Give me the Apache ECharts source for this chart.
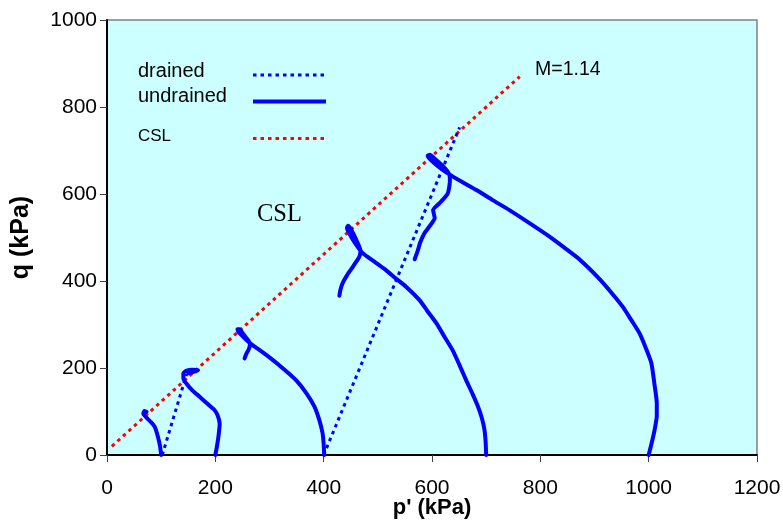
<!DOCTYPE html>
<html>
<head>
<meta charset="utf-8">
<script src="https://cdn.jsdelivr.net/npm/echarts@6/dist/echarts.min.js"></script>
<style>
  html, body { margin: 0; padding: 0; background: #ffffff; }
  #chart { width: 783px; height: 521px; }
</style>
</head>
<body>
<div id="chart"></div>
<script>
// Stress paths in p'-q space (kPa)
const undrained100 = [[100,0],[98,20],[94,42],[88,65],[80,77],[72,87],[67,95],[69,101],[73,99]];
const undrained200 = [[200,0],[203,20],[206,45],[208,72],[204,92],[198,104],[186,117],[171,134],[158,148],[148,162],[141,176],[141,188],[147,194],[158,196],[168,195],[160,191],[150,188]];
const undrained400 = [[401,0],[400,25],[398,50],[392,80],[383,111],[368,142],[349,172],[325,199],[294,230],[275,247],[266,255],[256,266],[248,276],[242,284],[241,289],[245,289],[250,281],[258,268],[264,256],[262,244],[257,232],[254,222]];
const undrained700 = [[700,0],[699,30],[697,57],[692,85],[685,111],[675,140],[663,172],[651,206],[638,241],[623,272],[608,303],[592,330],[577,356],[552,387],[533,406],[515,425],[493,445],[472,464],[458,487],[448,508],[443,522],[445,527],[451,518],[460,495],[468,470],[466,456],[455,435],[443,413],[435,395],[431,380],[429,366]];
const undrained1000 = [[1000,0],[1006,30],[1011,58],[1015,90],[1015,119],[1011,160],[1005,211],[995,245],[983,280],[968,310],[952,341],[932,372],[909,405],[872,450],[845,476],[817,502],[780,533],[743,563],[712,586],[682,609],[655,628],[632,645],[612,663],[598,678],[592,688],[596,690],[606,680],[622,662],[632,645],[633,630],[629,601],[614,579],[602,563],[605,545],[595,525],[586,510],[578,488],[574,471],[568,450]];
const drained100 = [[102,0],[147,186]];
const drained400 = [[400,0],[651,753]];
const cslLine = [[9,20],[762,870]];

const pRange = [0, 1200, 200];
const qRange = [0, 1000, 200];

const legendNames = ['drained', 'undrained', 'CSL'];
const slopeLabel = 'M=1.14';
const cslLabel = 'CSL';
const xTitle = "p' (kPa)";
const yTitle = 'q (kPa)';

const BLUE = '#0000FF';
const RED = '#FF0000';
const FONT = '"Liberation Sans", Arial, sans-serif';

const solid = { color: BLUE, width: 4, type: 'solid', cap: 'round', join: 'round' };
const dottedBlue = { color: BLUE, width: 3, type: [3.5, 4], cap: 'butt' };
const dottedRed = { color: RED, width: 3, type: [3.5, 4], cap: 'butt' };

function pathSeries(name, data, style, z, smooth) {
  return {
    name: name, type: 'line', data: data, symbol: 'none', smooth: smooth || false,
    lineStyle: style, z: z, silent: true, clip: false
  };
}

const series = [
  pathSeries('CSL', cslLine, dottedRed, 2),
  pathSeries('drained', drained100, dottedBlue, 3),
  pathSeries('drained', drained400, dottedBlue, 3),
  pathSeries('undrained', undrained100, solid, 4, 0.2),
  pathSeries('undrained', undrained200, solid, 4, 0.2),
  pathSeries('undrained', undrained400, solid, 4, 0.2),
  pathSeries('undrained', undrained700, solid, 4, 0.2),
  pathSeries('undrained', undrained1000, solid, 4, 0.2)
];

// Legend block inside the plot area: label on the left, line sample on the right
const legendRows = [
  { text: legendNames[0], y: 73, lineY: 75, size: 20, style: dottedBlue },
  { text: legendNames[1], y: 98.5, lineY: 101.5, size: 20, style: solid },
  { text: legendNames[2], y: 138, lineY: 138.5, size: 17, style: dottedRed }
];
const graphics = [];
legendRows.forEach(function (r) {
  graphics.push({
    type: 'text', left: 138, top: r.y - r.size * 0.6, z: 10,
    style: { text: r.text, fill: '#000', font: r.size + 'px ' + FONT }
  });
  graphics.push({
    type: 'line', z: 10,
    shape: { x1: 253, y1: r.lineY, x2: 326, y2: r.lineY },
    style: { stroke: r.style.color, lineWidth: r.style.width, lineDash: r.style.type === 'solid' ? null : r.style.type, lineCap: 'butt' }
  });
});
graphics.push({
  type: 'text', left: 535, top: 60, z: 10,
  style: { text: slopeLabel, fill: '#000', font: '19.5px ' + FONT }
});
graphics.push({
  type: 'text', left: 257, top: 202, z: 10,
  style: { text: cslLabel, fill: '#000', font: '24.5px "Liberation Serif", "Times New Roman", serif' }
});

const plain = function (v) { return String(v); };

const chart = echarts.init(document.getElementById('chart'), null, { renderer: 'canvas' });
chart.setOption({
  animation: false,
  backgroundColor: '#ffffff',
  grid: {
    left: 107, right: 26, top: 20, bottom: 66,
    outerBoundsMode: 'none', containLabel: false,
    show: true, backgroundColor: '#CCFFFF', borderColor: '#808080', borderWidth: 1.5
  },
  xAxis: {
    type: 'value', min: pRange[0], max: pRange[1], interval: pRange[2],
    name: xTitle, nameLocation: 'middle', nameGap: 42, nameMoveOverlap: false,
    nameTextStyle: { fontFamily: FONT, fontSize: 22, fontWeight: 'bold', color: '#000' },
    axisLine: { show: true, onZero: false, lineStyle: { color: '#000', width: 2 } },
    axisTick: { show: true, inside: false, length: 7, lineStyle: { color: '#404040', width: 1 } },
    axisLabel: { fontFamily: FONT, fontSize: 21, color: '#000', margin: 23, formatter: plain },
    splitLine: { show: false }
  },
  yAxis: {
    type: 'value', min: qRange[0], max: qRange[1], interval: qRange[2],
    name: yTitle, nameLocation: 'middle', nameGap: 73, nameMoveOverlap: false,
    nameTextStyle: { fontFamily: FONT, fontSize: 25, fontWeight: 'bold', color: '#000' },
    axisLine: { show: true, onZero: false, lineStyle: { color: '#000', width: 2 } },
    axisTick: { show: true, inside: false, length: 7, lineStyle: { color: '#404040', width: 1 } },
    axisLabel: { fontFamily: FONT, fontSize: 21, color: '#000', margin: 10, formatter: plain },
    splitLine: { show: false }
  },
  series: series,
  graphic: graphics
});
</script>
</body>
</html>
